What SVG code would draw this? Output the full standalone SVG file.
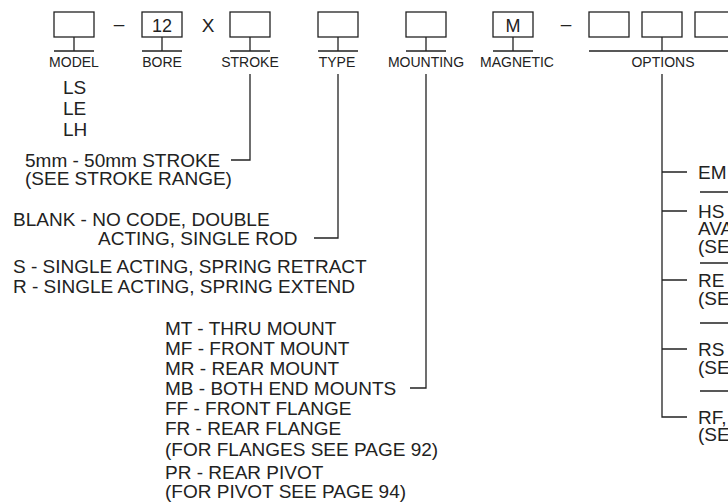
<svg xmlns="http://www.w3.org/2000/svg" width="728" height="504" viewBox="0 0 728 504">
<style>
.box{fill:#fff;stroke:#222;stroke-width:1.3}
.ln{fill:none;stroke:#222;stroke-width:1.3}
.lbl{font-family:"Liberation Sans",Arial,sans-serif;font-size:14px;fill:#222;text-anchor:middle}
.in{font-family:"Liberation Sans",Arial,sans-serif;font-size:18px;fill:#222;text-anchor:middle}
.sym{font-family:"Liberation Sans",Arial,sans-serif;font-size:19px;fill:#222;text-anchor:middle}
.t{font-family:"Liberation Sans",Arial,sans-serif;font-size:19px;fill:#222}
</style>
<rect width="728" height="504" fill="#fff"/>
<g id="model">
<rect class="box" x="54" y="12" width="40" height="25"/>
<path class="ln" d="M74 37V51M54 51H94"/>
<text class="lbl" x="74" y="67">MODEL</text>
<text class="t" x="63" y="94">LS</text>
<text class="t" x="63" y="115">LE</text>
<text class="t" x="63" y="136">LH</text>
</g>
<text class="sym" x="119" y="30">–</text>
<g id="bore">
<rect class="box" x="142" y="12" width="40" height="25"/>
<path class="ln" d="M162 37V51M142 51H182"/>
<text class="in" x="162" y="32">12</text>
<text class="lbl" x="162" y="67">BORE</text>
</g>
<text class="sym" x="208" y="32">X</text>
<g id="stroke">
<rect class="box" x="230" y="12" width="40" height="25"/>
<path class="ln" d="M250 37V51M230 51H270"/>
<text class="lbl" x="250" y="67">STROKE</text>
<text class="t" x="25" y="167">5mm - 50mm STROKE</text>
<text class="t" x="25" y="185">(SEE STROKE RANGE)</text>
</g>
<g id="type">
<rect class="box" x="318" y="12" width="40" height="25"/>
<path class="ln" d="M338 37V51M318 51H358"/>
<text class="lbl" x="337" y="67">TYPE</text>
<text class="t" x="13" y="226">BLANK - NO CODE, DOUBLE</text>
<text class="t" x="98" y="245">ACTING, SINGLE ROD</text>
<text class="t" x="13" y="273">S - SINGLE ACTING, SPRING RETRACT</text>
<text class="t" x="13" y="293">R - SINGLE ACTING, SPRING EXTEND</text>
</g>
<g id="mounting">
<rect class="box" x="406" y="12" width="40" height="25"/>
<path class="ln" d="M426 37V51M406 51H446"/>
<text class="lbl" x="426" y="67">MOUNTING</text>
<text class="t" x="165" y="335">MT - THRU MOUNT</text>
<text class="t" x="165" y="355">MF - FRONT MOUNT</text>
<text class="t" x="165" y="375">MR - REAR MOUNT</text>
<text class="t" x="165" y="395">MB - BOTH END MOUNTS</text>
<text class="t" x="165" y="415">FF - FRONT FLANGE</text>
<text class="t" x="165" y="435">FR - REAR FLANGE</text>
<text class="t" x="165" y="456">(FOR FLANGES SEE PAGE 92)</text>
<text class="t" x="165" y="479">PR - REAR PIVOT</text>
<text class="t" x="165" y="498">(FOR PIVOT SEE PAGE 94)</text>
</g>
<g id="magnetic">
<rect class="box" x="493" y="12" width="40" height="25"/>
<path class="ln" d="M513 37V51M493 51H533"/>
<text class="in" x="513" y="32">M</text>
<text class="lbl" x="517" y="67">MAGNETIC</text>
</g>
<text class="sym" x="566" y="30">–</text>
<g id="options">
<rect class="box" x="589" y="12" width="40" height="25"/>
<rect class="box" x="642" y="12" width="40" height="25"/>
<rect class="box" x="695" y="12" width="40" height="25"/>
<path class="ln" d="M662 37V51M589 51H730"/>
<text class="lbl" x="663" y="67">OPTIONS</text>
<text class="t" x="698" y="179">EM</text>
<text class="t" x="698" y="218">HS</text>
<text class="t" x="698" y="235">AVA</text>
<text class="t" x="698" y="253">(SE</text>
<text class="t" x="698" y="287">RE</text>
<text class="t" x="698" y="305">(SE</text>
<text class="t" x="698" y="356">RS</text>
<text class="t" x="698" y="374">(SE</text>
<text class="t" x="698" y="424">RF,</text>
<text class="t" x="698" y="441">(SE</text>
<path class="ln" d="M700 192H730M700 263H730M700 323H730M700 391H730"/>
</g>
<g id="connectors">
<path class="ln" d="M250 74V160H231"/>
<path class="ln" d="M338 74V238H314"/>
<path class="ln" d="M426 74V388H410"/>
<path class="ln" d="M662 74V417H687M662 172H687M662 211H687M662 280H687M662 349H687"/>
</g>
</svg>
